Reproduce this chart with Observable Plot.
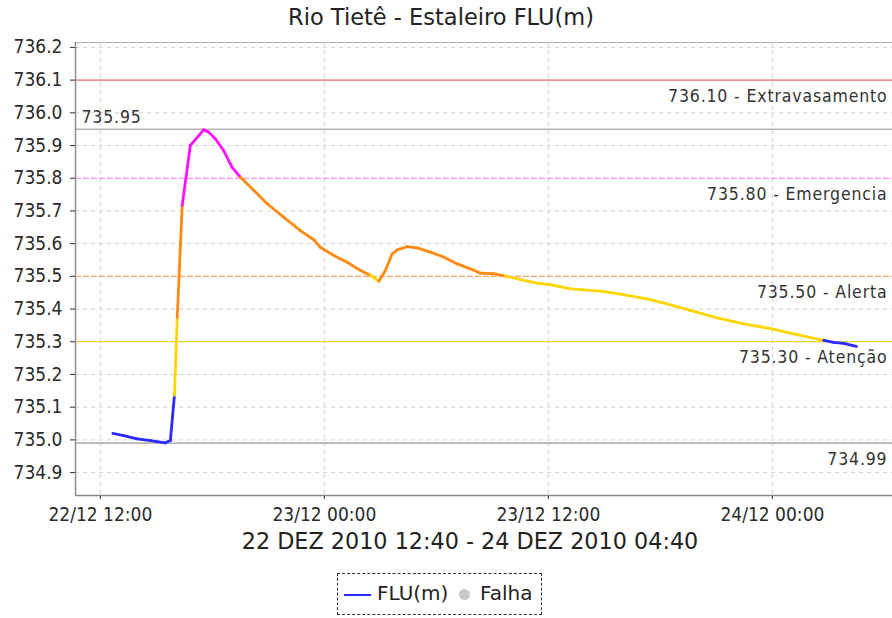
<!DOCTYPE html>
<html>
<head>
<meta charset="utf-8">
<script src="https://cdn.jsdelivr.net/npm/d3@7"></script>
<script src="https://cdn.jsdelivr.net/npm/@observablehq/plot@0.6"></script>
<style>
  html, body { margin: 0; padding: 0; background: #fff; }
  body { width: 892px; height: 618px; overflow: hidden; position: relative; font-family: "DejaVu Sans", sans-serif; color: #222; }
  #title { position: absolute; left: 441px; top: 4px; transform: translateX(-50%); font-size: 22.5px; white-space: nowrap; }
  #chart { position: absolute; left: 0; top: 34px; }
  #subtitle { position: absolute; left: 470px; top: 528px; transform: translateX(-50%); font-size: 22.3px; white-space: nowrap; }
  #legend { position: absolute; left: 337px; top: 573px; width: 203px; height: 40px; border: 1px dashed #333; box-sizing: content-box; font-size: 20px; }
  #legend .sw { position: absolute; left: 6px; top: 20px; width: 27px; height: 2px; background: #2a2aff; }
  #legend .t1 { position: absolute; left: 39px; top: 7px; }
  #legend .dot { position: absolute; left: 121px; top: 15px; width: 11px; height: 11px; border-radius: 50%; background: #c8c8c8; }
  #legend .t2 { position: absolute; left: 142px; top: 7px; }
</style>
</head>
<body>
<div id="title">Rio Tietê - Estaleiro FLU(m)</div>
<div id="chart"></div>
<div id="subtitle">22 DEZ 2010 12:40 - 24 DEZ 2010 04:40</div>
<div id="legend"><div class="sw"></div><span class="t1">FLU(m)</span><div class="dot"></div><span class="t2">Falha</span></div>
<script>
// ---- data ----
const times = [
  "2010-12-22T12:40","2010-12-22T13:15","2010-12-22T13:58","2010-12-22T14:41","2010-12-22T15:29",
  "2010-12-22T15:45","2010-12-22T15:58","2010-12-22T16:07","2010-12-22T16:23","2010-12-22T16:49",
  "2010-12-22T17:32","2010-12-22T17:48","2010-12-22T18:10","2010-12-22T18:36","2010-12-22T19:03",
  "2010-12-22T19:30","2010-12-22T20:13","2010-12-22T20:56","2010-12-22T21:49","2010-12-22T22:43",
  "2010-12-22T23:26","2010-12-22T23:47","2010-12-23T00:30","2010-12-23T01:13","2010-12-23T01:56",
  "2010-12-23T02:28","2010-12-23T02:55","2010-12-23T03:16","2010-12-23T03:38","2010-12-23T03:54",
  "2010-12-23T04:26","2010-12-23T04:58","2010-12-23T05:41","2010-12-23T06:23","2010-12-23T07:07",
  "2010-12-23T07:49","2010-12-23T08:21","2010-12-23T09:04","2010-12-23T09:42","2010-12-23T10:30",
  "2010-12-23T11:24","2010-12-23T12:06","2010-12-23T13:11","2010-12-23T14:47","2010-12-23T15:41",
  "2010-12-23T17:17","2010-12-23T18:21","2010-12-23T19:36","2010-12-23T21:02","2010-12-23T22:28",
  "2010-12-23T23:54","2010-12-24T01:19","2010-12-24T02:45","2010-12-24T03:17","2010-12-24T03:49",
  "2010-12-24T04:30"
];
const levels = [
  735.020, 735.013, 735.003, 734.998, 734.991,
  734.998, 735.136, 735.375, 735.717, 735.900,
  735.948, 735.941, 735.920, 735.885, 735.834,
  735.803, 735.763, 735.722, 735.681, 735.640,
  735.612, 735.589, 735.564, 735.543, 735.518,
  735.503, 735.485, 735.518, 735.569, 735.581,
  735.591, 735.587, 735.574, 735.559, 735.538,
  735.523, 735.510, 735.508, 735.501, 735.490,
  735.479, 735.475, 735.462, 735.455, 735.447,
  735.431, 735.416, 735.396, 735.373, 735.355,
  735.340, 735.322, 735.304, 735.298, 735.295,
  735.286
];
const limitValues = [736.10, 735.95, 735.80, 735.50, 735.30, 734.99];
const limitLabels = ["736.10 - Extravasamento", "735.95", "735.80 - Emergencia", "735.50 - Alerta", "735.30 - Atenção", "734.99"];
const yTicks = [734.9, 735.0, 735.1, 735.2, 735.3, 735.4, 735.5, 735.6, 735.7, 735.8, 735.9, 736.0, 736.1, 736.2];
const xTickTimes = ["2010-12-22T12:00", "2010-12-23T00:00", "2010-12-23T12:00", "2010-12-24T00:00"];

// ---- styles ----
const limitStyle = [
  {stroke: "#ff6f6f", dash: null, width: 1.2},
  {stroke: "#b4b4b4", dash: null, width: 1.6},
  {stroke: "#ff80ff", dash: "6,2", width: 1.2},
  {stroke: "#ffa860", dash: "6,2", width: 1.2},
  {stroke: "#e8d200", dash: null, width: 1.2},
  {stroke: "#b4b4b4", dash: null, width: 1.6}
];
function levelColor(v) {
  if (v < 735.30) return "#2a2aff";
  if (v < 735.50) return "#ffd500";
  if (v < 735.80) return "#ff8a14";
  return "#ff10ff";
}

const parse = s => new Date(s);
const data = times.map((t, i) => ({t: parse(t), v: levels[i]}));
const segs = data.slice(1).map((d, i) => ({t1: data[i].t, v1: data[i].v, t2: d.t, v2: d.v, c: levelColor(d.v)}));
const xTicks = xTickTimes.map(parse);
const xDomain = [parse("2010-12-22T10:40"), parse("2010-12-24T06:26")];
const yDomain = [734.83, 736.215];

const limits = limitValues.map((v, i) => ({v, label: limitLabels[i], i}));
const leftLabels = limits.filter(d => d.i === 1);
const rightLabels = limits.filter(d => d.i !== 1);

const font = "'DejaVu Sans Condensed', 'DejaVu Sans', sans-serif";

const chart = Plot.plot({
  width: 892,
  height: 491,
  marginLeft: 75,
  marginRight: 0,
  marginTop: 8,
  marginBottom: 30,
  style: {fontFamily: font, fontSize: "19px", color: "#2a2a2a", background: "transparent", overflow: "visible"},
  x: {type: "time", domain: xDomain, ticks: xTicks, tickFormat: d3.timeFormat("%d/%m %H:%M"), tickSize: 4, tickPadding: 8, label: null},
  y: {domain: yDomain, ticks: yTicks, tickFormat: d3.format(".1f"), tickSize: 5, tickPadding: 8, label: null},
  marks: [
    Plot.ruleY(yTicks, {stroke: "#cfcfcf", strokeDasharray: "4,4", strokeWidth: 1}),
    Plot.ruleX(xTicks, {stroke: "#cfcfcf", strokeDasharray: "4,4", strokeWidth: 1}),
    ...limits.map(d => Plot.ruleY([d.v], {stroke: limitStyle[d.i].stroke, strokeWidth: limitStyle[d.i].width, strokeDasharray: limitStyle[d.i].dash})),
    Plot.text(rightLabels, {x: () => xDomain[1], y: "v", text: "label", textAnchor: "end", lineAnchor: "top", dx: -5, dy: 9, fontSize: 17.5, fill: "#333", fontFamily: font}),
    Plot.text(leftLabels, {x: () => xDomain[0], y: "v", text: "label", textAnchor: "start", lineAnchor: "bottom", dx: 6, dy: -6, fontSize: 17.5, fill: "#333", fontFamily: font}),
    Plot.link(segs, {x1: "t1", y1: "v1", x2: "t2", y2: "v2", stroke: d => d.c, strokeWidth: 2.8, strokeLinecap: "round", strokeLinejoin: "round"}),
    Plot.ruleY([yDomain[1]], {stroke: "#b0b0b0", strokeWidth: 1}),
    Plot.ruleX([xDomain[0]], {stroke: "#888", strokeWidth: 1.4}),
    Plot.ruleY([yDomain[0]], {stroke: "#888", strokeWidth: 1.4})
  ]
});
d3.select(chart).selectAll("g[aria-label='text'] text").style("letter-spacing", "0.85px");
document.getElementById("chart").appendChild(chart);
</script>
</body>
</html>
